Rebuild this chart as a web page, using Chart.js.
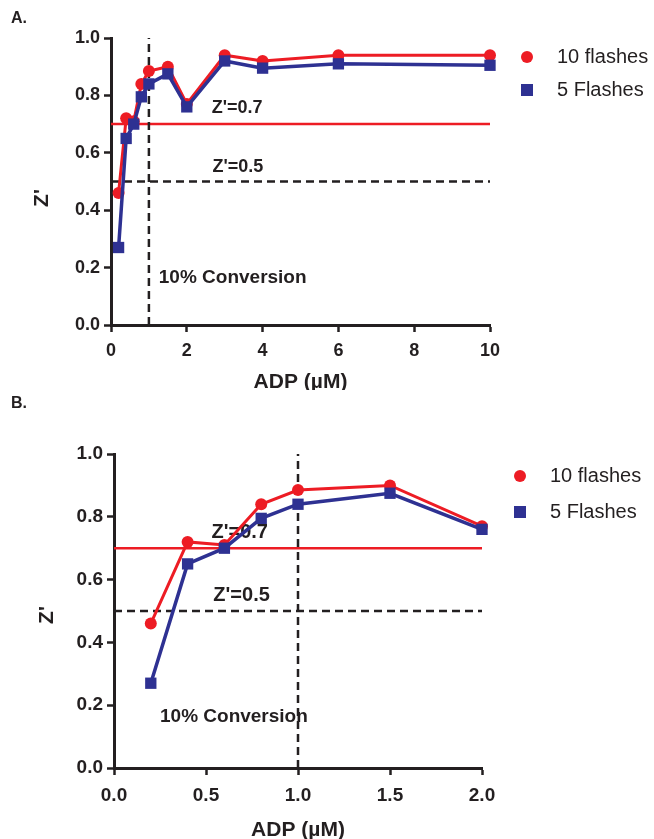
<!DOCTYPE html>
<html>
<head>
<meta charset="utf-8">
<script src="https://cdn.jsdelivr.net/npm/chart.js@4.4.1/dist/chart.umd.min.js"></script>
<style>
  html, body { margin: 0; padding: 0; background: #fff; }
  body { width: 654px; height: 839px; position: relative; overflow: hidden; }
  .panel { position: absolute; left: 0; width: 654px; }
  #wrapA { top: 0; height: 390px; }
  #wrapB { top: 390px; height: 449px; }
</style>
</head>
<body>
<div class="panel" id="wrapA"><canvas id="chartA"></canvas></div>
<div class="panel" id="wrapB"><canvas id="chartB"></canvas></div>
<script>
// data
const adpA = [0.2, 0.4, 0.6, 0.8, 1, 1.5, 2, 3, 4, 6, 10];
const tenFlashesA = [0.46, 0.72, 0.71, 0.84, 0.885, 0.90, 0.77, 0.94, 0.92, 0.94, 0.94];
const fiveFlashesA = [0.27, 0.65, 0.70, 0.795, 0.84, 0.875, 0.76, 0.92, 0.895, 0.91, 0.905];

const adpB = [0.2, 0.4, 0.6, 0.8, 1, 1.5, 2];
const tenFlashesB = [0.46, 0.72, 0.71, 0.84, 0.885, 0.90, 0.77];
const fiveFlashesB = [0.27, 0.65, 0.70, 0.795, 0.84, 0.875, 0.76];

const zGood = 0.7;
const zOk = 0.5;
const conversionAdp = 1;

const yTicks = [0, 0.2, 0.4, 0.6, 0.8, 1.0];

const RED = '#ED1C24';
const BLUE = '#2E3192';
const INK = '#231F20';
const ARIAL = "'Liberation Sans', Arial, sans-serif";

function pts(xs, ys) {
  return xs.map((x, i) => ({ x: x, y: ys[i] }));
}

function buildDatasets(xs, red, blue, xmax) {
  return [
    {
      label: '5 Flashes', data: pts(xs, blue), order: 0,
      borderColor: BLUE, backgroundColor: BLUE, borderWidth: 3.5,
      pointStyle: 'rect', pointRadius: 8, pointBorderWidth: 0, clip: false
    },
    {
      label: '10 flashes', data: pts(xs, red), order: 1,
      borderColor: RED, backgroundColor: RED, borderWidth: 3,
      pointStyle: 'circle', pointRadius: 6, pointBorderWidth: 0, clip: false
    },
    {
      label: 'ref07', data: [{ x: 0, y: zGood }, { x: xmax, y: zGood }], order: 3,
      borderColor: RED, borderWidth: 2.5, pointRadius: 0, clip: false
    },
    {
      label: 'ref05', data: [{ x: 0, y: zOk }, { x: xmax, y: zOk }], order: 3,
      borderColor: INK, borderWidth: 2.5, borderDash: [8, 5], pointRadius: 0, clip: false
    },
    {
      label: 'conv', data: [{ x: conversionAdp, y: 0 }, { x: conversionAdp, y: 1 }], order: 2,
      borderColor: INK, borderWidth: 2.5, borderDash: [8, 5], pointRadius: 0, clip: false
    }
  ];
}

// draws panel letter, axis titles, notes and legend
function panelPlugin(cfg) {
  return {
    id: 'panel' + cfg.letter,
    beforeDatasetsDraw(chart) {
      const ctx = chart.ctx, x = chart.scales.x, y = chart.scales.y;
      ctx.save();
      ctx.fillStyle = INK;
      ctx.textBaseline = 'middle';
      ctx.textAlign = 'left';
      cfg.notes.forEach(n => {
        ctx.font = 'bold ' + n.size + 'px ' + ARIAL;
        ctx.fillText(n.text, x.getPixelForValue(n.x), y.getPixelForValue(n.y));
      });
      ctx.restore();
    },
    afterDraw(chart) {
      const ctx = chart.ctx, area = chart.chartArea;
      ctx.save();
      ctx.fillStyle = INK;
      ctx.textBaseline = 'middle';
      ctx.font = 'bold 16px ' + ARIAL;
      ctx.textAlign = 'left';
      ctx.fillText(cfg.letter + '.', 11, cfg.letterY);

      ctx.font = 'bold ' + cfg.titleSize + 'px ' + ARIAL;
      ctx.textAlign = 'center';
      ctx.fillText('ADP (\u00B5M)', (area.left + area.right) / 2, cfg.xTitleY);

      ctx.save();
      ctx.translate(cfg.yTitleX, cfg.yTitleY);
      ctx.rotate(-Math.PI / 2);
      ctx.fillText("Z'", 0, 0);
      ctx.restore();

      // legend
      const lx = area.right + cfg.legendDx;
      ctx.font = '20px ' + ARIAL;
      ctx.textAlign = 'left';
      ctx.fillStyle = RED;
      ctx.beginPath();
      ctx.arc(lx, cfg.legendY[0], 6, 0, Math.PI * 2);
      ctx.fill();
      ctx.fillStyle = BLUE;
      ctx.fillRect(lx - 6, cfg.legendY[1] - 6, 12, 12);
      ctx.fillStyle = INK;
      ctx.fillText('10 flashes', lx + 30, cfg.legendY[0]);
      ctx.fillText('5 Flashes', lx + 30, cfg.legendY[1]);
      ctx.restore();
    }
  };
}

function axisScales(xmax, xstep, xfmt, tickSize, yWidth, xHeight, xPad) {
  const axisLine = { display: true, color: INK, width: 3 };
  const grid = { drawOnChartArea: false, drawTicks: true, tickLength: 7, tickWidth: 2.5, tickColor: INK };
  return {
    x: {
      type: 'linear', min: 0, max: xmax,
      border: axisLine, grid: grid,
      ticks: {
        stepSize: xstep, padding: xPad, color: INK,
        font: { family: ARIAL, size: tickSize, weight: 'bold' },
        callback: xfmt
      },
      afterFit(s) { s.height = xHeight; }
    },
    y: {
      type: 'linear', min: 0, max: 1,
      border: axisLine, grid: grid,
      afterBuildTicks(s) { s.ticks = yTicks.map(v => ({ value: v })); },
      ticks: {
        padding: 4, color: INK,
        font: { family: ARIAL, size: tickSize, weight: 'bold' },
        callback: v => v.toFixed(1)
      },
      afterFit(s) { s.width = yWidth; }
    }
  };
}

function commonOptions(scales, padding) {
  return {
    responsive: true,
    maintainAspectRatio: false,
    animation: false,
    layout: { padding: padding },
    plugins: { legend: { display: false }, tooltip: { enabled: false } },
    elements: { line: { tension: 0 } },
    scales: scales
  };
}

new Chart(document.getElementById('chartA'), {
  type: 'line',
  data: { datasets: buildDatasets(adpA, tenFlashesA, fiveFlashesA, 10) },
  options: commonOptions(
    axisScales(10, 2, v => String(v), 18, 111, 65, 8),
    { left: 0, right: 164, top: 38, bottom: 0 }
  ),
  plugins: [panelPlugin({
    letter: 'A', letterY: 19, titleSize: 21, xTitleY: 382,
    yTitleX: 42, yTitleY: 198,
    legendDx: 37, legendY: [57, 90],
    notes: [
      { text: "Z'=0.7", x: 2.66, y: 0.756, size: 18 },
      { text: "Z'=0.5", x: 2.68, y: 0.55, size: 18 },
      { text: '10% Conversion', x: 1.26, y: 0.164, size: 19 }
    ]
  })]
});

new Chart(document.getElementById('chartB'), {
  type: 'line',
  data: { datasets: buildDatasets(adpB, tenFlashesB, fiveFlashesB, 2) },
  options: commonOptions(
    axisScales(2, 0.5, v => v.toFixed(1), 19, 114, 71, 9),
    { left: 0, right: 172, top: 64, bottom: 0 }
  ),
  plugins: [panelPlugin({
    letter: 'B', letterY: 14, titleSize: 21, xTitleY: 440,
    yTitleX: 47, yTitleY: 225,
    legendDx: 38, legendY: [86, 122],
    notes: [
      { text: "Z'=0.7", x: 0.53, y: 0.75, size: 20 },
      { text: "Z'=0.5", x: 0.54, y: 0.548, size: 20 },
      { text: '10% Conversion', x: 0.25, y: 0.163, size: 19 }
    ]
  })]
});
</script>
</body>
</html>
